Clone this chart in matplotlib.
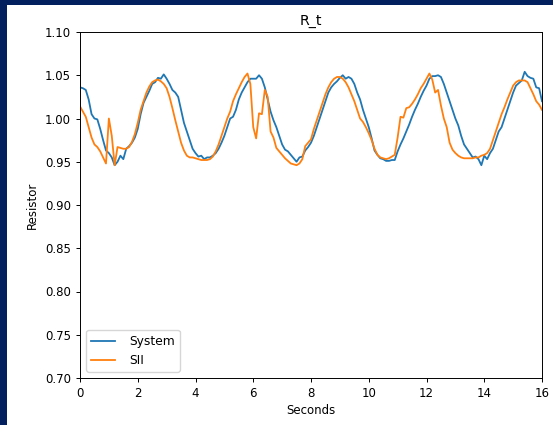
import matplotlib
matplotlib.use("Agg")
import matplotlib.pyplot as plt
from matplotlib.patches import Rectangle

t_system = [round(i * 0.1, 1) for i in range(161)]
system = [
    1.036, 1.035, 1.033, 1.022, 1.005, 1.000, 0.999, 0.988, 0.975, 0.963,
    0.960, 0.955, 0.946, 0.950, 0.957, 0.953, 0.965, 0.968, 0.972, 0.978,
    0.988, 1.005, 1.018, 1.025, 1.032, 1.040, 1.042, 1.047, 1.046, 1.051,
    1.046, 1.040, 1.033, 1.030, 1.025, 1.010, 0.995, 0.985, 0.975, 0.965,
    0.960, 0.956, 0.957, 0.953, 0.955, 0.955, 0.957, 0.960, 0.965, 0.972,
    0.980, 0.990, 1.000, 1.002, 1.010, 1.022, 1.030, 1.036, 1.042, 1.046,
    1.046, 1.046, 1.050, 1.046, 1.036, 1.022, 1.008, 0.998, 0.990, 0.980,
    0.970, 0.964, 0.962, 0.958, 0.954, 0.950, 0.955, 0.956, 0.963, 0.967,
    0.972, 0.980, 0.990, 1.000, 1.010, 1.020, 1.030, 1.036, 1.040, 1.043,
    1.047, 1.050, 1.046, 1.048, 1.046, 1.040, 1.030, 1.022, 1.010, 1.000,
    0.990, 0.977, 0.963, 0.958, 0.954, 0.953, 0.951, 0.951, 0.952, 0.952,
    0.962, 0.970, 0.977, 0.985, 0.993, 1.002, 1.010, 1.017, 1.025, 1.032,
    1.038, 1.046, 1.049, 1.049, 1.050, 1.048, 1.040, 1.030, 1.020, 1.010,
    1.000, 0.992, 0.980, 0.970, 0.965, 0.960, 0.955, 0.956, 0.953, 0.946,
    0.957, 0.953, 0.960, 0.965, 0.975, 0.985, 0.990, 1.000, 1.010, 1.020,
    1.030, 1.038, 1.041, 1.044, 1.054, 1.049, 1.047, 1.046, 1.036, 1.035,
    1.020,
]

t_sii = [round(i * 0.1, 1) for i in range(161)]
sii = [
    1.014, 1.008, 1.002, 0.990, 0.978, 0.970, 0.967, 0.962, 0.955, 0.948,
    1.000, 0.980, 0.946, 0.967, 0.966, 0.965, 0.965, 0.967, 0.973, 0.982,
    0.995, 1.010, 1.020, 1.030, 1.037, 1.042, 1.044, 1.045, 1.043, 1.040,
    1.035, 1.025, 1.012, 0.998, 0.985, 0.972, 0.963, 0.957, 0.955, 0.955,
    0.954, 0.953, 0.952, 0.952, 0.952, 0.953, 0.956, 0.962, 0.970, 0.980,
    0.990, 1.000, 1.008, 1.020, 1.028, 1.035, 1.042, 1.048, 1.052, 1.040,
    0.990, 0.977, 1.006, 1.005, 1.033, 1.025, 0.985, 0.978, 0.966, 0.962,
    0.958, 0.954, 0.951, 0.948, 0.947, 0.946, 0.948, 0.953, 0.968, 0.972,
    0.976, 0.988, 0.998, 1.008, 1.018, 1.028, 1.036, 1.042, 1.046, 1.048,
    1.048, 1.046, 1.042, 1.036, 1.028, 1.020, 1.010, 1.000, 0.996, 0.990,
    0.983, 0.975, 0.965, 0.958, 0.955, 0.954, 0.953, 0.954, 0.956, 0.958,
    0.978, 1.002, 1.001, 1.012, 1.013, 1.017, 1.022, 1.028, 1.035, 1.040,
    1.046, 1.052, 1.045, 1.030, 1.033, 1.015, 1.000, 0.990, 0.972, 0.964,
    0.960, 0.957, 0.955, 0.954, 0.954, 0.954, 0.954, 0.955, 0.955, 0.957,
    0.958, 0.960, 0.965, 0.975, 0.985, 0.995, 1.005, 1.013, 1.022, 1.030,
    1.038, 1.042, 1.044, 1.044, 1.044, 1.042, 1.035, 1.028, 1.020, 1.016,
    1.010,
]

x_ticks = [0, 2, 4, 6, 8, 10, 12, 14, 16]
y_ticks = [0.70, 0.75, 0.80, 0.85, 0.90, 0.95, 1.00, 1.05, 1.10]

W, H = 553, 425
fig = plt.figure(figsize=(W / 100, H / 100), dpi=100, facecolor="#02205e")
fig.patches.append(Rectangle((7 / W, 0), 1 - 7 / W, 1 - 5 / H,
                             transform=fig.transFigure, facecolor="white",
                             edgecolor="none", zorder=-10))
ax = fig.add_axes([80 / W, 1 - 378 / H, (542 - 80) / W, (378 - 32) / H])
ax.set_zorder(5)

lw = 1.3
ax.plot(t_system, system, color="#1f77b4", lw=lw, label="System")
ax.plot(t_sii, sii, color="#ff7f0e", lw=lw, label="SII")

ax.set_xlim(0, 16)
ax.set_ylim(0.70, 1.10)
ax.set_xticks(x_ticks)
ax.set_yticks(y_ticks)
ax.set_yticklabels([f"{v:.2f}" for v in y_ticks])
ax.tick_params(labelsize=8.5, length=3, width=0.7)
for s in ax.spines.values():
    s.set_linewidth(0.7)
ax.set_title("R_t", fontsize=10.2, pad=5)
ax.set_xlabel("Seconds", fontsize=8.5, labelpad=3)
ax.set_ylabel("Resistor", fontsize=8.5, labelpad=4)
ax.legend(loc="lower left", fontsize=8.8, handletextpad=1.1)

fig.savefig("out.png", dpi=100, facecolor=fig.get_facecolor())
